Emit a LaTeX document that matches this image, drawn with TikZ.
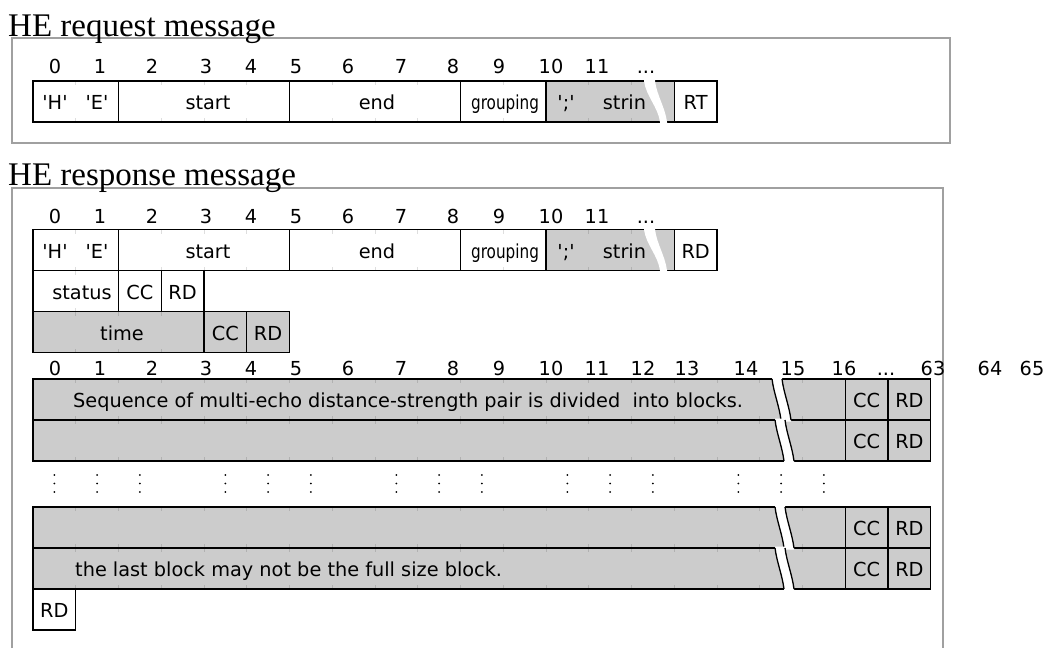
\documentclass[tikz,border=0pt]{standalone}
\usepackage{fontspec}
\usepackage{graphicx}
\setmainfont{Liberation Serif}
\newfontfamily\dv{DejaVu Sans}[Ligatures=TeXOff]
\newcommand\dvf{\dv\fontsize{19.3}{23}\selectfont}
\definecolor{boxgray}{HTML}{CCCCCC}
\definecolor{framegray}{HTML}{A0A0A0}
\newcommand\tickrow[2]{\foreach \i in {1,...,#1} {\draw[tick] (33+42.75*\i,#2) -- ++(0,4) (33+42.75*\i,#2+41) -- ++(0,-4);}}
\newcommand\gapband[7]{%
  \fill[white] (#1,#5-1.5) -- (#1,#5) .. controls (#1+2,#5+15) and (#3-2,#6-15) .. (#3,#6) -- (#3,#6+1.5)
    -- (#4,#6+1.5) -- (#4,#6) .. controls (#4-2,#6-15) and (#2+2,#5+15) .. (#2,#5) -- (#2,#5-1.5) -- cycle;
  \ifnum#7=1
  \draw[gapedge] (#1,#5) .. controls (#1+2,#5+15) and (#3-2,#6-15) .. (#3,#6);
  \draw[gapedge] (#2,#5) .. controls (#2+2,#5+15) and (#4-2,#6-15) .. (#4,#6);
  \fi}
\begin{document}
\begin{tikzpicture}[x=1pt,y=-1pt,
  frame/.style={draw=framegray, line width=1.6pt},
  title/.style={anchor=base west, inner sep=0pt, font=\fontsize{33}{38}\selectfont},
  lbl/.style={anchor=base, inner sep=0pt, font=\dvf},
  cell/.style={draw=black, line width=1.3pt, inner sep=0pt, outer sep=0pt, anchor=north west,
    minimum height=41pt, text height=16pt, text depth=0pt, font=\dvf},
  tick/.style={draw=black, opacity=0.13, line width=0.7pt},
  gapedge/.style={draw=black, line width=1.3pt}]
\useasboundingbox (0,0) rectangle (1048,648);

% ---------- frames and titles ----------
\draw[frame] (12,38) rectangle (950,143);
\draw[frame] (12,648) -- (12,188) -- (943,188) -- (943,648);
\node[title] (reqtitle) at (8,36.5) {HE request message};
\node[title] (restitle) at (8,185) {HE response message};

% ---------- byte labels ----------
\foreach \x/\t [count=\k] in {55/0,100/1,152/2,206/3,251/4,296/5,348/6,401/7,453/8,499/9,551/10,597/11}
  {\node[lbl] (qa\k) at (\x,73) {\t};
   \node[lbl] (ra\k) at (\x,223) {\t};}
\node[lbl] (qadots) at (646,73) {...};
\node[lbl] (radots) at (646,223) {...};
\foreach \x/\t [count=\k] in {55/0,100/1,152/2,206/3,251/4,296/5,348/6,401/7,453/8,499/9,551/10,597/11,643/12,687/13,746/14,793/15,844/16,933/63,990/64,1032/65}
  {\node[lbl] (la\k) at (\x,375) {\t};}
\node[lbl] (ladots) at (886,375) {...};

% ---------- gray fills ----------
\fill[boxgray] (546,81) rectangle (674.25,122);
\fill[boxgray] (546,229.5) rectangle (674.25,270.5);
\fill[boxgray] (33,311.5) rectangle (289.5,352.5);
\fill[boxgray] (33,379) rectangle (930.75,461);
\fill[boxgray] (33,507) rectangle (930.75,589);

% ---------- faint byte ticks ----------
\tickrow{15}{81}
\tickrow{15}{229.5}
\tickrow{3}{270.5}
\tickrow{5}{311.5}
\tickrow{20}{379}
\tickrow{20}{420}
\tickrow{20}{507}
\tickrow{20}{548}

% ---------- request row ----------
\node[cell, minimum width=85.5pt] (qHE) at (33,81) {};
\node[cell, minimum width=171pt] (qStart) at (118.5,81) {};
\node[cell, minimum width=171pt] (qEnd) at (289.5,81) {};
\node[cell, minimum width=85.5pt] (qGrp) at (460.5,81) {};
\node[cell, minimum width=128.25pt] (qStr) at (546,81) {};
\node[cell, minimum width=42.75pt] (qRT) at (674.25,81) {RT};
\node[lbl] (qH) at (55,109.5) {'H'};
\node[lbl] (qE) at (97,109.5) {'E'};
\node[lbl] (qSt) at (208,109.5) {start};
\node[lbl] (qEn) at (377,109.5) {end};
\node[lbl] (qGr) at (505,109.5) {\scalebox{0.79}[1]{grouping}};
\node[lbl] (qSc) at (566,109.5) {';'};
\node[lbl] (qSn) at (624.5,109.5) {strin};

% ---------- response header row ----------
\node[cell, minimum width=85.5pt] (rHE) at (33,229.5) {};
\node[cell, minimum width=171pt] (rStart) at (118.5,229.5) {};
\node[cell, minimum width=171pt] (rEnd) at (289.5,229.5) {};
\node[cell, minimum width=85.5pt] (rGrp) at (460.5,229.5) {};
\node[cell, minimum width=128.25pt] (rStr) at (546,229.5) {};
\node[cell, minimum width=42.75pt] (rRD) at (674.25,229.5) {RD};
\node[lbl] (rH) at (55,258) {'H'};
\node[lbl] (rE) at (97,258) {'E'};
\node[lbl] (rSt) at (208,258) {start};
\node[lbl] (rEn) at (377,258) {end};
\node[lbl] (rGr) at (505,258) {\scalebox{0.79}[1]{grouping}};
\node[lbl] (rSc) at (566,258) {';'};
\node[lbl] (rSn) at (624.5,258) {strin};

% ---------- status row ----------
\node[cell, minimum width=85.5pt] (sStatus) at (33,270.5) {};
\node[lbl] (sSt) at (82,299) {status};
\node[cell, minimum width=42.75pt] (sCC) at (118.5,270.5) {CC};
\node[cell, minimum width=42.75pt] (sRD) at (161.25,270.5) {RD};

% ---------- time row ----------
\node[cell, minimum width=171pt] (tTime) at (33,311.5) {};
\node[lbl] (tTi) at (122,340) {time};
\node[cell, minimum width=42.75pt] (tCC) at (204,311.5) {CC};
\node[cell, minimum width=42.75pt] (tRD) at (246.75,311.5) {RD};

% ---------- block rows ----------
\foreach \top/\nm in {379/b1,420/b2,507/b3,548/b4}{
  \node[cell, minimum width=812.25pt] (\nm) at (33,\top) {};
  \node[cell, minimum width=42.75pt] (\nm cc) at (845.25,\top) {CC};
  \node[cell, minimum width=42.75pt] (\nm rd) at (888,\top) {RD};
}
\node[lbl, anchor=base west] (b1txt) at (73,407.5) {Sequence of multi-echo distance-strength pair is divided\ \ into blocks.};
\node[lbl, anchor=base west] (b4txt) at (75,576.5) {the last block may not be the full size block.};
\node[cell, minimum width=42.75pt] (lastRD) at (33,589) {RD};

% ---------- vertical ellipsis ----------
\foreach \i in {0,1,2,4,5,6,8,9,10,12,13,14,16,17,18}
  \foreach \y in {475,483.5,492}
    \fill (54.375+42.75*\i,\y) circle[radius=0.9pt];

% ---------- breaks ----------
\gapband{644}{655}{660}{667}{81}{122}{0}
\gapband{644}{655}{660}{667}{229.5}{270.5}{0}
\gapband{772}{782}{781}{791}{379}{420}{1}
\gapband{775}{785}{784}{794}{420}{461}{1}
\gapband{775}{785}{784}{794}{507}{548}{1}
\gapband{775}{785}{784}{794}{548}{589}{1}
\end{tikzpicture}
\end{document}
